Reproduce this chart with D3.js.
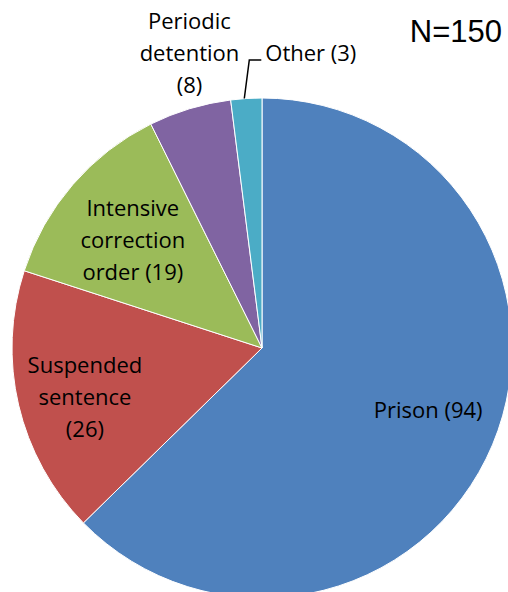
<!DOCTYPE html>
<html>
<head>
<meta charset="utf-8">
<script src="https://cdn.jsdelivr.net/npm/d3@7"></script>
<style>
  body { margin: 0; background: #fff; }
  svg text { font-family: "Open Sans", "Noto Sans", sans-serif; }
</style>
</head>
<body>
<div id="chart"></div>
<script>
var categories = ["Prison", "Suspended sentence", "Intensive correction order", "Periodic detention", "Other"]
var values = [94, 26, 19, 8, 3]
var colors = ["#4F81BD", "#C0504D", "#9BBB59", "#8064A2", "#4BACC6"]
// label text lines, as in the source chart
var labelLines = [
    ["Prison (94)"],
    ["Suspended", "sentence", "(26)"],
    ["Intensive", "correction", "order (19)"],
    ["Periodic", "detention", "(8)"],
    ["Other (3)"]
]

var width = 508
var height = 592
var cx = 262, cy = 348, radius = 250

var svg = d3.select("#chart").append("svg")
    .attr("width", width)
    .attr("height", height)

var g = svg.append("g").attr("transform", "translate(" + cx + "," + cy + ")")

var pie = d3.pie().sort(null).value(d => d)
var arcs = pie(values)
var arc = d3.arc().innerRadius(0).outerRadius(radius)

g.selectAll("path")
    .data(arcs)
    .enter().append("path")
    .attr("d", arc)
    .attr("fill", (d, i) => colors[i])
    .attr("stroke", "#fff")
    .attr("stroke-width", 1)

// radius at which each label sits, and small nudges
var labelR = [177, 186, 168, 303, 0]
var nudge = [[3, -6], [4, 7], [-2, 2], [15, -5], [0, 0]]
var lineH = 32
var fs = 22

arcs.forEach(function(a, i) {
    if (i == 4) return
    var mid = (a.startAngle + a.endAngle) / 2
    var x = Math.sin(mid) * labelR[i] + nudge[i][0]
    var y = -Math.cos(mid) * labelR[i] + nudge[i][1]
    var lines = labelLines[i]
    var t = g.append("text")
        .attr("text-anchor", "middle")
        .attr("font-size", fs)
        .attr("fill", "#000")
    lines.forEach(function(l, j) {
        t.append("tspan")
            .attr("x", x)
            .attr("y", y + (j - (lines.length - 1) / 2) * lineH)
            .attr("dy", "0.35em")
            .text(l)
    })
})

// "Other" label with a leader line
var other = arcs[4]
var om = (other.startAngle + other.endAngle) / 2
var p0 = [Math.sin(om) * radius - 2, -Math.cos(om) * radius]
var p1 = [p0[0] + 5, -288]
var p2 = [p1[0] + 12, -288]
g.append("path")
    .attr("d", d3.line()([p0, p1, p2]))
    .attr("fill", "none")
    .attr("stroke", "#000")
    .attr("stroke-width", 1.5)
g.append("text")
    .attr("x", p2[0] + 4)
    .attr("y", -295)
    .attr("dy", "0.35em")
    .attr("font-size", fs)
    .text(labelLines[4][0])

svg.append("text")
    .attr("x", 502)
    .attr("y", 42)
    .attr("text-anchor", "end")
    .attr("font-size", 31)
    .style("font-family", "'Liberation Sans', Arial, sans-serif")
    .text("N=150")
</script>
</body>
</html>
